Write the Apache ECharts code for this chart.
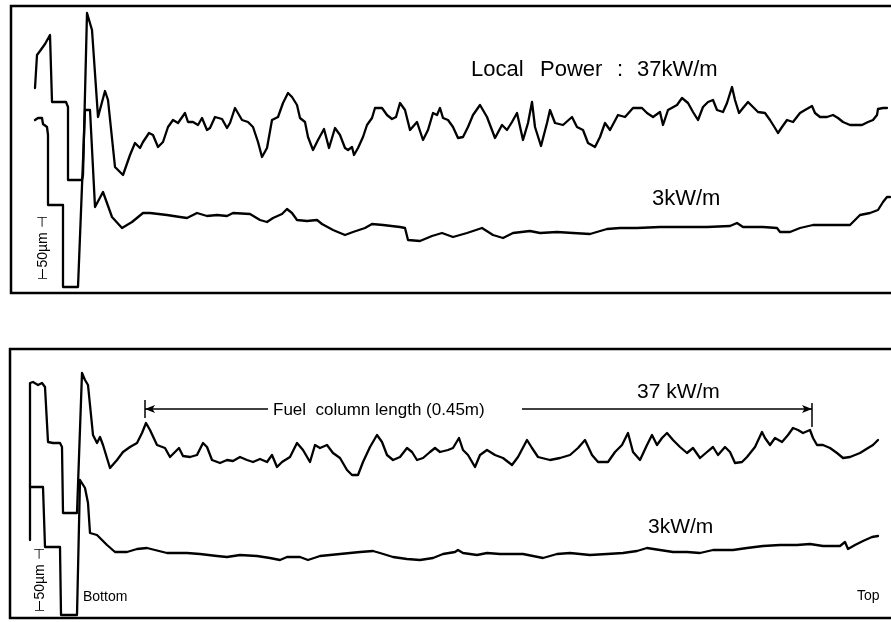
<!DOCTYPE html>
<html>
<head>
<meta charset="utf-8">
<script src="https://cdn.jsdelivr.net/npm/echarts@6/dist/echarts.min.js"></script>
<style>
  html, body { margin: 0; padding: 0; background: #fff; }
  #chart { width: 891px; height: 622px; }
</style>
</head>
<body>
<div id="chart"></div>
<script>
// Surface profile traces along the fuel column, [scan position, profile height]
// Upper panel: 37 kW/m and 3 kW/m pins
const upper37kW = [
  [35,205],[37,238],[40,242],[45,249],[50,258],[52,256],[52,191],[66,191],[68,186],[68,113],
  [82,113],[83,118],[87,280],[92,263],[98,176],[105,202],[108,193],[115,126],[123,118],[130,138],
  [135,150],[140,145],[143,151],[149,160],[153,158],[158,146],[163,151],[168,166],[173,173],[178,170],
  [185,180],[188,171],[193,171],[198,168],[202,175],[207,163],[210,165],[215,176],[222,174],[227,165],
  [230,170],[235,185],[242,173],[248,171],[253,166],[258,151],[262,136],[267,145],[272,173],[278,176],
  [283,190],[288,200],[292,196],[297,188],[300,175],[305,171],[308,156],[313,143],[318,153],[324,164],
  [329,145],[335,165],[340,158],[345,145],[348,143],[352,146],[354,138],[358,145],[363,156],[367,168],
  [372,175],[375,185],[382,185],[387,178],[392,174],[396,176],[400,190],[405,183],[410,163],[417,171],
  [423,153],[428,163],[433,180],[437,178],[440,185],[443,175],[448,173],[453,166],[458,155],[463,156],
  [468,166],[473,178],[480,188],[487,176],[495,155],[502,168],[507,163],[512,171],[517,180],[523,153],
  [528,170],[532,191],[535,166],[541,147],[547,170],[550,183],[555,170],[563,168],[572,176],[577,166],
  [583,163],[588,150],[595,146],[600,156],[605,170],[610,163],[618,178],[625,176],[633,185],[642,185],
  [647,180],[653,176],[660,181],[663,168],[668,183],[677,188],[682,195],[688,190],[693,181],[698,173],
  [703,186],[708,191],[713,193],[717,183],[723,181],[727,190],[732,206],[735,193],[739,180],[743,185],
  [748,191],[753,186],[758,181],[765,180],[770,173],[775,165],[778,160],[782,166],[787,173],[793,171],
  [800,180],[805,183],[812,187],[815,180],[820,176],[827,176],[833,178],[838,175],[843,171],[850,168],
  [857,168],[862,168],[868,171],[873,173],[877,178],[878,184],[883,185],[887,185]
];
const upper3kW = [
  [35,173],[38,175],[42,175],[43,169],[47,166],[48,158],[48,88],[63,88],[63,6],[78,6],
  [85,183],[90,183],[95,86],[97,85],[103,101],[112,76],[122,65],[132,71],[143,80],[150,80],
  [167,78],[180,76],[187,75],[197,80],[207,77],[217,78],[227,77],[233,80],[250,79],[260,73],
  [267,71],[273,75],[282,79],[287,84],[292,80],[297,73],[307,72],[317,73],[322,69],[333,63],
  [345,58],[353,61],[365,65],[372,69],[383,68],[400,66],[405,65],[408,53],[420,52],[432,57],
  [442,60],[453,56],[467,60],[482,65],[493,58],[503,55],[513,60],[530,62],[540,60],[557,61],
  [573,60],[590,59],[607,64],[620,65],[637,65],[660,66],[680,66],[707,66],[730,67],[737,70],
  [743,66],[763,66],[777,65],[780,61],[790,61],[800,65],[813,68],[830,68],[850,68],[855,73],
  [860,78],[870,80],[878,83],[883,91],[887,96],[890,96]
];

// Lower panel: 37 kW/m and 3 kW/m pins
const lower37kW = [
  [30,78],[30,235],[33,236],[38,233],[42,235],[45,231],[48,176],[53,175],[60,175],[62,171],
  [63,105],[77,105],[82,245],[85,238],[88,233],[93,183],[97,175],[100,181],[103,173],[110,150],
  [117,158],[123,166],[130,171],[137,175],[142,185],[146,195],[150,188],[157,173],[165,170],[170,161],
  [175,166],[179,170],[183,162],[190,161],[197,163],[203,175],[207,171],[212,158],[220,155],[227,158],
  [233,157],[240,161],[247,158],[253,156],[260,159],[267,156],[272,163],[277,151],[282,156],[290,161],
  [297,175],[303,168],[310,156],[315,173],[320,170],[327,173],[333,165],[340,160],[347,148],[352,143],
  [358,143],[363,156],[370,171],[377,183],[382,176],[387,163],[393,158],[400,161],[407,170],[412,166],
  [417,158],[423,160],[430,166],[435,170],[440,166],[448,168],[453,170],[459,180],[463,168],[468,163],
  [475,151],[480,163],[487,168],[495,163],[503,160],[512,153],[518,161],[527,178],[532,170],[538,161],
  [550,158],[560,160],[570,163],[578,170],[585,178],[592,163],[598,156],[608,156],[615,166],[622,173],
  [628,185],[633,166],[640,158],[647,173],[652,183],[657,173],[662,180],[667,185],[673,178],[680,171],
  [687,165],[693,170],[700,160],[707,166],[713,171],[718,163],[725,171],[730,166],[735,155],[742,156],
  [747,161],[755,171],[762,186],[765,180],[770,173],[775,180],[782,176],[788,183],[793,190],[798,188],
  [803,185],[810,188],[813,180],[817,173],[823,173],[830,170],[837,165],[843,160],[850,161],[860,165],
  [868,170],[873,173],[878,178]
];
const lower3kW = [
  [30,131],[43,131],[45,71],[60,71],[61,3],[77,3],[80,138],[85,130],[88,115],[90,85],
  [97,83],[102,78],[107,73],[115,66],[127,66],[137,69],[147,70],[155,68],[167,65],[187,65],
  [200,64],[217,62],[227,61],[240,63],[257,62],[270,60],[280,58],[287,61],[300,61],[308,58],
  [320,62],[340,64],[360,66],[373,67],[380,65],[393,61],[407,59],[420,58],[433,60],[443,64],
  [455,66],[458,68],[463,65],[477,63],[487,65],[500,64],[523,64],[543,60],[557,64],[570,65],
  [590,63],[607,64],[623,65],[637,67],[647,70],[660,68],[673,66],[687,66],[700,65],[713,68],
  [733,68],[747,70],[763,72],[780,73],[797,73],[810,74],[823,72],[840,72],[845,76],[848,69],
  [855,73],[863,77],[872,81],[878,82]
];

// Fuel column extent marked in the lower panel
const fuelColumnStart = 145;
const fuelColumnEnd = 812;
const dimensionLevel = 209;

const chart = echarts.init(document.getElementById('chart'), null, { renderer: 'canvas' });

const lineStyle = { color: '#000', width: 2.3, join: 'round', cap: 'round' };
function trace(data, idx) {
  return {
    type: 'line', data: data, xAxisIndex: idx, yAxisIndex: idx,
    showSymbol: false, symbol: 'none', smooth: false,
    lineStyle: lineStyle, silent: true, animation: false, z: 3
  };
}
const FONT = '"Liberation Sans", Arial, sans-serif';
function label(text, x, y, size, extra) {
  return Object.assign({
    type: 'text', x: x, y: y, silent: true, z: 10,
    style: { text: text, font: size + 'px ' + FONT, fill: '#000', align: 'left', verticalAlign: 'middle' }
  }, extra || {});
}
// Open-ended panel frame: top, left and bottom sides only
function frame(left, top, bottom) {
  return {
    type: 'polyline', silent: true, z: 5,
    shape: { points: [[891, top], [left, top], [left, bottom], [891, bottom]] },
    style: { stroke: '#000', lineWidth: 2.5, fill: null }
  };
}

const option = {
  backgroundColor: '#fff',
  animation: false,
  grid: [
    { left: 11, top: 6, right: 0, height: 287, show: false },
    { left: 10, top: 349, right: 0, height: 269, show: false }
  ],
  xAxis: [
    { type: 'value', gridIndex: 0, min: 11, max: 891, show: false },
    { type: 'value', gridIndex: 1, min: 10, max: 891, show: false }
  ],
  yAxis: [
    { type: 'value', gridIndex: 0, min: 0, max: 287, show: false },
    { type: 'value', gridIndex: 1, min: 0, max: 269, show: false }
  ],
  series: [
    trace(upper37kW, 0),
    trace(upper3kW, 0),
    trace(lower37kW, 1),
    Object.assign(trace(lower3kW, 1), {
      markLine: {
        silent: true, animation: false,
        lineStyle: { color: '#000', width: 1.5, type: 'solid' },
        label: { show: false },
        data: [
          [{ coord: [fuelColumnStart, dimensionLevel], symbol: 'arrow', symbolSize: [6, 10] },
           { coord: [268, dimensionLevel], symbol: 'none' }],
          [{ coord: [522, dimensionLevel], symbol: 'none' },
           { coord: [fuelColumnEnd, dimensionLevel], symbol: 'arrow', symbolSize: [6, 10] }],
          [{ coord: [fuelColumnStart, 200], symbol: 'none' }, { coord: [fuelColumnStart, 218], symbol: 'none' }],
          [{ coord: [fuelColumnEnd, 191], symbol: 'none' }, { coord: [fuelColumnEnd, 215], symbol: 'none' }]
        ]
      }
    })
  ],
  graphic: [
    frame(11, 6, 293),
    frame(10, 349, 618),
    label('Local', 471, 70, 22),
    label('Power', 540, 70, 22),
    label(':', 617, 70, 22),
    label('37kW/m', 637, 70, 22),
    label('3kW/m', 652, 199, 22),
    label('Fuel  column length (0.45m)', 273, 410, 17),
    label('37 kW/m', 637, 392, 21),
    label('3kW/m', 648, 527, 21),
    label('Bottom', 83, 597, 14),
    label('Top', 857, 596, 14),
    label('⊢50µm ⊣', 43, 248, 14, { rotation: Math.PI / 2,
      style: { text: '⊢50µm ⊣', font: '14px ' + FONT, fill: '#000', align: 'center', verticalAlign: 'middle' } }),
    label('⊢50µm ⊣', 40, 580, 14, { rotation: Math.PI / 2,
      style: { text: '⊢50µm ⊣', font: '14px ' + FONT, fill: '#000', align: 'center', verticalAlign: 'middle' } })
  ]
};
chart.setOption(option);
</script>
</body>
</html>
